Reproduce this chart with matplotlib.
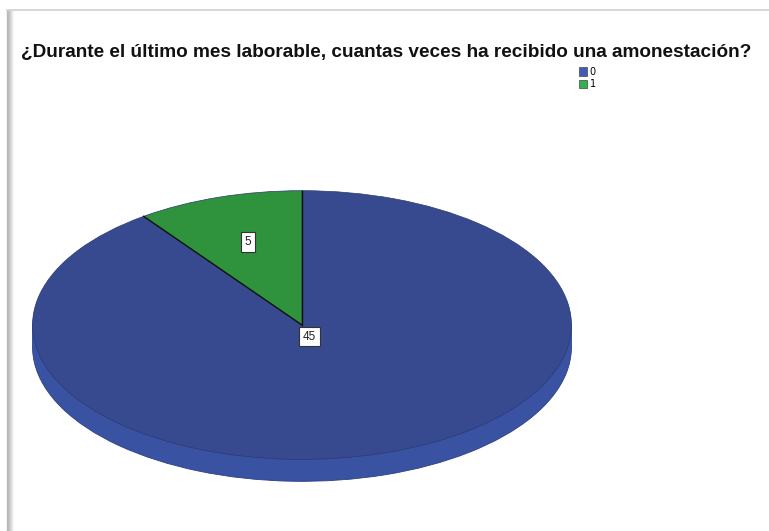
import numpy as np
import matplotlib
matplotlib.use("Agg")
import matplotlib.pyplot as plt
from matplotlib.patches import Patch

title = "¿Durante el último mes laborable, cuantas veces ha recibido una amonestación?"
categories = ["0", "1"]
counts = [45, 5]

top_colors = ["#374a8f", "#2f923d"]
side_colors = ["#3a52a2", "#2a8237"]
legend_colors = ["#3e5cb8", "#2fb34c"]

W, H = 769, 531
fig = plt.figure(figsize=(W / 100, H / 100), dpi=100)
fig.patch.set_facecolor("white")

# page frame drawn in pixel coordinates
bg = fig.add_axes([0, 0, 1, 1])
bg.set_xlim(0, W)
bg.set_ylim(H, 0)
bg.axis("off")
for i, a in enumerate(np.linspace(0.45, 0.03, 7)):
    bg.plot([7 + i, 7 + i], [10, H], color="0.45", alpha=a, lw=1, solid_capstyle="butt")
bg.plot([7, W], [10, 10], color="0.82", lw=1.2)

bg.text(386, 53, title, ha="center", va="center", fontsize=13.7,
        fontweight="bold", family="Liberation Sans", color="#111111")

handles = [Patch(facecolor=c, edgecolor="0.35", linewidth=0.6) for c in legend_colors]
fig.legend(handles, categories, loc="upper left",
           bbox_to_anchor=(574 / W, 1 - 62 / H), frameon=False,
           fontsize=7, handlelength=0.8, handleheight=0.9,
           handletextpad=0.3, labelspacing=0.25, borderpad=0)

# 3D-style pie: a stack of offset ellipses forms the side, the top face goes last
ax = fig.add_axes([32 / W, (H - 482) / H, 540 / W, 292 / H])
depth = 22 / 135
offsets = np.linspace(depth, 0, 16)[:-1]
for k, off in enumerate(offsets):
    ax.pie(counts, colors=side_colors, startangle=126, center=(0, -off),
           radius=1, wedgeprops=dict(linewidth=0.6 if k == 0 else 0,
                                     edgecolor="#2c3f80"))
wedges, _ = ax.pie(counts, colors=top_colors, startangle=126,
                   wedgeprops=dict(edgecolor="#2b3a70", linewidth=0.5))
# dark separators between slices
for w in wedges:
    t = np.deg2rad(w.theta1)
    ax.plot([0, np.cos(t)], [0, np.sin(t)], color="#111111", lw=1.0)
ax.set_aspect("auto")
ax.set_xlim(-1.002, 1.002)
ax.set_ylim(-1 - depth - 0.005, 1.005)
ax.axis("off")

label_radius = [0.09, 0.65]
for w, n, r in zip(wedges, counts, label_radius):
    ang = np.deg2rad((w.theta1 + w.theta2) / 2)
    ax.text(r * np.cos(ang), r * np.sin(ang), str(n), ha="center", va="center",
            fontsize=8.5, color="#222222", family="Liberation Sans",
            bbox=dict(boxstyle="square,pad=0.3", fc="white", ec="#333333", lw=0.8))

fig.savefig("out.png", dpi=100)
